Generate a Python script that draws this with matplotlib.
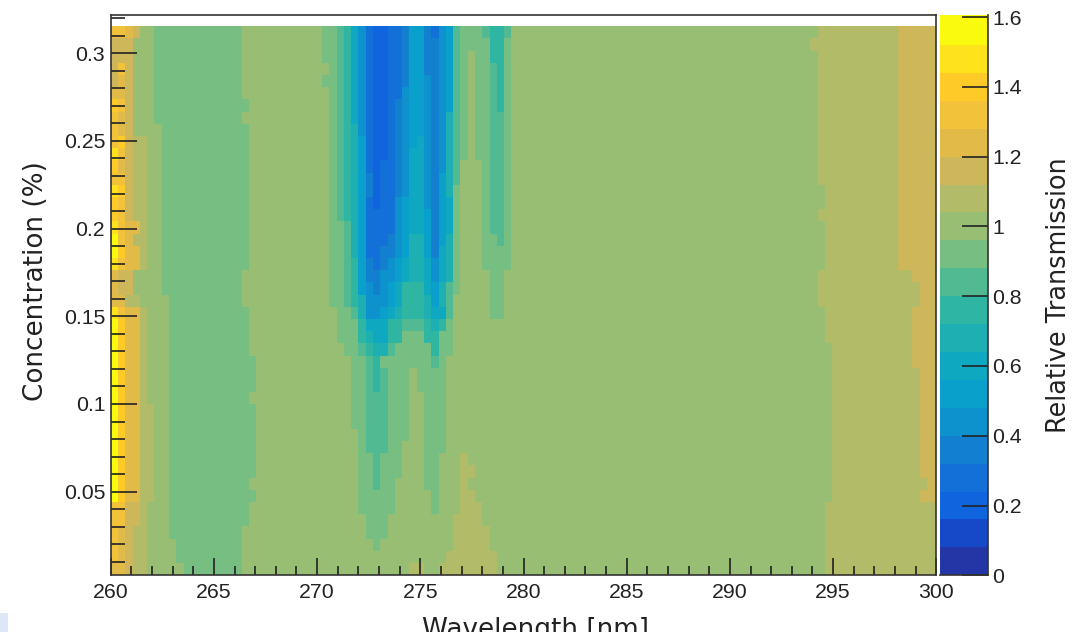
import numpy as np
import matplotlib
matplotlib.use("Agg")
import matplotlib.pyplot as plt
from matplotlib.colors import ListedColormap, BoundaryNorm
from matplotlib.patches import Rectangle
from matplotlib.ticker import MultipleLocator

# Colour classes of the palette, from 0 to 1.6 in 20 steps
palette = [(36,54,165),(22,73,200),(16,100,222),(18,112,216),(18,128,207),
           (14,146,205),(10,160,204),(14,168,192),(30,175,178),(46,182,162),
           (82,186,146),(118,190,130),(152,190,116),(178,188,104),(206,182,90),
           (226,186,72),(242,194,58),(253,202,40),(253,226,28),(250,250,15)]
code = "0123456789ABCDEFGHIJ"

# Transmission class per cell, top row first: wavelength bins 0-20
left_rows = [
 "GGFECC"+"B"*12+"CCC", "EEECCC"+"B"*12+"CCC", "EEECCC"+"B"*12+"CCC",
 "EGECCC"+"B"*12+"CCC", "EFECCC"+"B"*12+"CCC", "FFECCC"+"B"*12+"CCC",
 "HGECCC"+"B"*13+"CC",  "GFECCC"+"B"*12+"CCC", "GFECCCC"+"B"*12+"CC",
 "GHEDDCC"+"B"*12+"CC", "IGEDDCC"+"B"*12+"CC", "HFEDDCC"+"B"*12+"CC",
 "GGEDDCC"+"B"*12+"CC", "IHEDDCC"+"B"*12+"CC", "HGEDDCC"+"B"*12+"CC",
 "HGEDDCC"+"B"*12+"CC", "IGFFDCC"+"B"*12+"CC", "JGFDDCC"+"B"*12+"CC",
 "JHFFDCC"+"B"*12+"CC", "IGFFDCC"+"B"*12+"CC", "FEECCCC"+"B"*11+"CCC",
 "FEECCCC"+"B"*11+"CCC", "FFDDCCCC"+"B"*10+"CCC", "IGFFDCCC"+"B"*11+"CC",
 "JHFFDCCC"+"B"*11+"CC", "JHFFDCCC"+"B"*11+"CC", "JHFFDCCC"+"B"*11+"CC",
 "JHFFDCCC"+"B"*12+"C", "JHFFDCCC"+"B"*12+"C", "JHFFDCCC"+"B"*12+"C",
 "JHFFDCCC"+"B"*11+"CC", "JHFFDDCC"+"B"*12+"C", "JHFFDDCC"+"B"*12+"C",
 "JHFFDDCC"+"B"*12+"C", "JHFFDDCC"+"B"*12+"C", "JHFFDDCC"+"B"*12+"C",
 "JHFFDDCC"+"B"*12+"C", "JHFFDDCC"+"B"*11+"CC", "JHFFDDCC"+"B"*12+"C",
 "GGEEDCCC"+"B"*11+"CC", "GGEEDCCC"+"B"*11+"CC", "GFEDDCCC"+"B"*10+"CCC",
 "GFEDDCCCC"+"B"*9+"CCC", "GFEDDCCCC"+"B"*9+"CCC", "FFEDDCCCCC"+"B"*8+"CCC",
]
# wavelength bins 29-55, top row first
mid_rows = [
 "BBA975322334664356ABBBA99AC", "BBA975322334664456ABBBB99BC",
 "BBA975322334664456ABCBB99BC", "CBA975322334664456ABCBBA9BC",
 "BBA975322334665456ABCBBA9BC", "CBA975322335665456ABCBBA9BC",
 "CBA975322345665456ABCBBA9BC", "CBA975322345665458ABCBBAABC",
 "CBA985322345665458ABCBBAABC", "CBA986322345675458ABCBBAABC",
 "CBA986322345775458ABCBBAABC", "CBA986323345775458ACCCBAABC",
 "CBA986423345775468ACCCBAABC", "CBA986423345775468BCCCBAABC",
 "CBA986323356775467BCCCBAABC", "CBA986333356776467BCCCBAABC",
 "CBBA86333356776467BCCCBAABC", "CBBA86333456886468BCCCBBABC",
 "CBBA86334456886478BCCCBBBBC", "CBBA96434567887578BCCCBBBBC",
 "CBBA96445567887578BCCCCBBCC", "CBBA9654567999768ABCCCCBBCC",
 "CBBA9855567999868ACCCCCBBCC", "CCBBA855678999877ACCCCCBBCC",
 "CCBBB977799AAA989BCCCCCCCCC", "CCBBB987799BBB99BBCCCCCCCCC",
 "CCCBBA988ABBBBB9BBCCCCCCCCC", "CCCCBBA9BBBBBBBABCCCCCCCCCC",
 "CCCCBBA9ABBBCBBBBCCCCCCCCCC", "CCCCBBA9ABBBCBBBBCCCCCCCCCC",
 "CCCCBBAAABBBCCBBBCCCCCCCCCC", "CCCCBBAAABBBCCBBBCCCCCCCCCC",
 "CCCCBBAAABBBCCBBBCCCCCCCCCC", "CCCCCBAAABBBCCBBBCCCCCCCCCC",
 "CCCCCBAAABBCCCBBBCCCCCCCCCC", "CCCCCBBABBBCCCBBCCCDCCCCCCC",
 "CCCCCBBABBBCCCBBCCCDDCCCCCC", "CCCCCBBABBCCCCBBCCCDCCCCCCC",
 "CCCCCBBBBBCCCCCBCCCDDCCCCCC", "CCCCCBBBBBCCCCCBCCCDDDCCCCC",
 "CCCCCCBBBCCCCCCCCCDDDDCCCCC", "CCCCCCBBBCCCCCCCCCDDDDDCCCC",
 "CCCCCCCBCCCCCCCCCCDDDDDCCCC", "CCCCCCCCCCCCCCCCCDDDDDDDCCC",
 "CCCCCCCCCCCCDDCCDDDDDDDDCCC",
]
# first bin of the 1.04-1.12 class and of the 1.12-1.20 class, top row first
olive_start = [97,96]+[97]*11+[98,98,97]+[98]*4+[97,97,97]+[98,98,98]+[99]*13+[98]*6
gold_start = [108]*20+[110,111,111]+[110]*5+[111]*9+[112,111]+[114]*6

n_bins, n_rows = 114, 45
bin_nm = 40/113.3
wl_edges = 260 + bin_nm*np.arange(n_bins+1)
conc_low, conc_high = 0.00232, 0.3154
conc_edges = np.linspace(conc_low, conc_high, n_rows+1)

levels = np.full((n_rows, n_bins), 12)
for i in range(n_rows):
    levels[i, 0:21] = [code.index(c) for c in left_rows[i]]
    levels[i, 29:56] = [code.index(c) for c in mid_rows[i]]
    levels[i, olive_start[i]:gold_start[i]] = 13
    levels[i, gold_start[i]:] = 14
levels = levels[::-1]
transmission = (levels + 0.5)*0.08

W, H = 1091, 632
plt.rcParams['font.family'] = ['Liberation Sans']
fig = plt.figure(figsize=(W/100, H/100), dpi=100)
def rect(l, t, r, b):
    return [l/W, 1-b/H, (r-l)/W, (b-t)/H]

fig.add_artist(Rectangle((0, 0), 8/W, 19/H, transform=fig.transFigure,
                         facecolor='#dde7f5', edgecolor='none'))

ax = fig.add_axes(rect(110.7, 15, 936.3, 575.3))
cmap = ListedColormap([tuple(v/255 for v in c) for c in palette])
bounds = list(np.linspace(0, 1.6, 21))
bounds[-1] = 1.606
norm = BoundaryNorm(bounds, cmap.N)
mesh = ax.pcolormesh(wl_edges, conc_edges, transmission, cmap=cmap, norm=norm,
                     shading='flat', linewidth=0, rasterized=True)
ax.set_xlim(260, 300)
ax.set_ylim(conc_low, 0.3218)

ax.xaxis.set_minor_locator(MultipleLocator(1))
ax.yaxis.set_minor_locator(MultipleLocator(0.01))
ax.set_xticks([260,265,270,275,280,285,290,295,300])
ax.set_xticklabels(['260','265','270','275','280','285','290','295','300'])
ax.set_yticks([0.05,0.1,0.15,0.2,0.25,0.3])
ax.set_yticklabels(['0.05','0.1','0.15','0.2','0.25','0.3'])
px = 72/100
ink = '#222222'
ax.tick_params(axis='x', which='major', direction='in', length=17*px, width=1.2, labelsize=15.3, pad=5.5, color=ink, labelcolor=ink)
ax.tick_params(axis='x', which='minor', direction='in', length=9*px, width=1.2, color=ink)
ax.tick_params(axis='y', which='major', direction='in', length=26*px, width=1.2, labelsize=15.3, pad=4, color=ink, labelcolor=ink)
ax.tick_params(axis='y', which='minor', direction='in', length=14*px, width=1.2, color=ink)
for s in ax.spines.values():
    s.set_linewidth(1.2)
    s.set_color('#333333')
    s.set_zorder(5)

cax = fig.add_axes(rect(940, 15, 988, 575.3))
cb = fig.colorbar(mesh, cax=cax, spacing='proportional', ticks=np.arange(0, 1.61, 0.2))
cb.ax.set_yticklabels(['0','0.2','0.4','0.6','0.8','1','1.2','1.4','1.6'])
cax.minorticks_off()
cax.tick_params(axis='y', which='major', direction='in', right=True, length=26*px, width=1.2,
                labelsize=15.3, pad=3, color=ink, labelcolor=ink)
for name, s in cax.spines.items():
    s.set_visible(name in ('right', 'bottom'))
    s.set_linewidth(1.2)
    s.set_color('#333333')
cb.outline.set_visible(False)

fig.text(36/W, 1-281/H, 'Concentration (%)', rotation=90, ha='center', va='center',
         fontsize=18.9, family='DejaVu Sans', color=ink)
fig.text(536/W, 1-630/H, 'Wavelength [nm]', ha='center', va='center',
         fontsize=18.9, family='DejaVu Sans', color=ink)
fig.text(1059/W, 1-295/H, 'Relative Transmission', rotation=90, ha='center', va='center',
         fontsize=18.4, family='DejaVu Sans', color=ink)

fig.savefig('out.png', dpi=100)
